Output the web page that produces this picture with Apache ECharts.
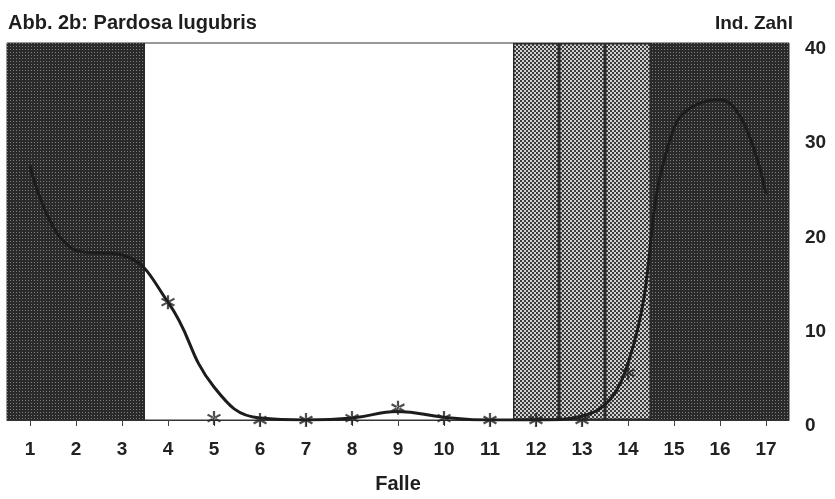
<!DOCTYPE html>
<html>
<head>
<meta charset="utf-8">
<title>Abb. 2b: Pardosa lugubris</title>
<script src="https://cdn.jsdelivr.net/npm/echarts@6/dist/echarts.min.js"></script>
<style>
  html, body { margin: 0; padding: 0; background: #fff; }
  #main { width: 835px; height: 499px; }
</style>
</head>
<body>
<div id="main"></div>
<script>
// Fallen 1..17
var categories = ['1','2','3','4','5','6','7','8','9','10','11','12','13','14','15','16','17'];
// geglaettete Kurve (Ind. Zahl)
var curveValues = [27, 18, 17.5, 12.5, 3.5, 0.2, 0, 0.2, 0.9, 0.3, 0, 0, 0.4, 6, 31, 34, 24];
// gemessene Werte (Sterne), in den dunklen Flaechen nicht lesbar
var starValues = [null, null, null, 12.5, 0.2, 0, 0, 0.2, 1.3, 0.2, 0, 0, 0, 5, null, null, null];
// Hintergrund je Falle: 'dark' = dunkel gerastert, 'check' = kariert, '' = weiss
var zones = ['dark','dark','dark','','','','','','','','','check','check','check','dark','dark','dark'];
var yTicks = [0, 10, 20, 30, 40];

var FONT = '"Liberation Sans", Arial, Helvetica, sans-serif';
var yMax = yTicks[yTicks.length - 1];

function makePattern(size, draw) {
  var c = document.createElement('canvas');
  c.width = size; c.height = size;
  draw(c.getContext('2d'));
  return c;
}
// dunkles Raster mit hellen Punkten
var darkPattern = makePattern(3, function (ctx) {
  ctx.fillStyle = '#2a2a2a';
  ctx.fillRect(0, 0, 3, 3);
  ctx.fillStyle = '#7c7c7c';
  ctx.fillRect(1, 1, 1, 1);
});
// feines Schachbrett
var checkPattern = makePattern(4, function (ctx) {
  ctx.fillStyle = '#d2d2d2';
  ctx.fillRect(0, 0, 4, 4);
  ctx.fillStyle = '#3a3a3a';
  ctx.fillRect(0, 0, 2, 2);
  ctx.fillRect(2, 2, 2, 2);
});

var zoneBars = zones.map(function (z) {
  if (z === 'dark') {
    return { value: yMax, itemStyle: { color: { image: darkPattern, repeat: 'repeat' }, borderWidth: 0 } };
  }
  if (z === 'check') {
    return { value: yMax, itemStyle: { color: { image: checkPattern, repeat: 'repeat' }, borderColor: '#2a2a2a', borderWidth: 1.5 } };
  }
  return { value: null };
});

// Sternchen als Pfad (drei Balken)
var starPath = 'path://M-1.5,-10L1.5,-10L1.5,10L-1.5,10Z' +
  'M7.91,6.30L9.41,3.70L-7.91,-6.30L-9.41,-3.70Z' +
  'M7.91,-6.30L9.41,-3.70L-7.91,6.30L-9.41,3.70Z';

var option = {
  backgroundColor: '#fff',
  animation: false,
  title: {
    text: 'Abb. 2b: Pardosa lugubris',
    left: 3,
    top: 8,
    textStyle: { fontFamily: FONT, fontSize: 20, fontWeight: 'bold', color: '#1e1e1e' }
  },
  grid: {
    left: 7, right: 46, top: 43, bottom: 76,
    show: true, borderColor: '#333', borderWidth: 1, backgroundColor: 'transparent'
  },
  xAxis: {
    type: 'category',
    data: categories,
    boundaryGap: true,
    name: 'Falle',
    nameLocation: 'middle',
    nameGap: 54,
    nameTextStyle: { fontFamily: FONT, fontSize: 20, fontWeight: 'bold', color: '#1e1e1e' },
    axisLine: { show: true, lineStyle: { color: '#333', width: 1 } },
    axisTick: { show: true, alignWithLabel: true, length: 6, lineStyle: { color: '#444' } },
    axisLabel: { fontFamily: FONT, fontSize: 19, fontWeight: 'bold', color: '#222', margin: 20 },
    splitLine: { show: false }
  },
  yAxis: {
    type: 'value',
    position: 'right',
    min: 0,
    max: yMax,
    interval: 10,
    name: 'Ind. Zahl',
    nameLocation: 'end',
    nameGap: 10,
    nameTextStyle: { fontFamily: FONT, fontSize: 19, fontWeight: 'bold', color: '#1e1e1e', align: 'right', padding: [0, -4, 0, 0] },
    axisLine: { show: false },
    axisTick: { show: false },
    splitLine: { show: false },
    axisLabel: {
      fontFamily: FONT, fontSize: 19, fontWeight: 'bold', color: '#222', margin: 16,
      verticalAlign: 'top', lineHeight: 12,
      formatter: function (v) { return yTicks.indexOf(v) >= 0 ? String(v) : ''; }
    }
  },
  series: [
    {
      name: 'Flaechen',
      type: 'bar',
      data: zoneBars,
      barCategoryGap: '0%',
      silent: true,
      z: 1
    },
    {
      name: 'Kurve',
      type: 'line',
      data: curveValues,
      smooth: 0.45,
      showSymbol: false,
      lineStyle: { color: '#1c1c1c', width: 3 },
      silent: true,
      z: 3
    },
    {
      name: 'Ind. Zahl',
      type: 'scatter',
      data: starValues,
      symbol: starPath,
      symbolSize: 14,
      itemStyle: { color: '#222' },
      z: 4
    }
  ]
};

var myChart = echarts.init(document.getElementById('main'), null, { renderer: 'canvas' });
myChart.setOption(option);
</script>
</body>
</html>
